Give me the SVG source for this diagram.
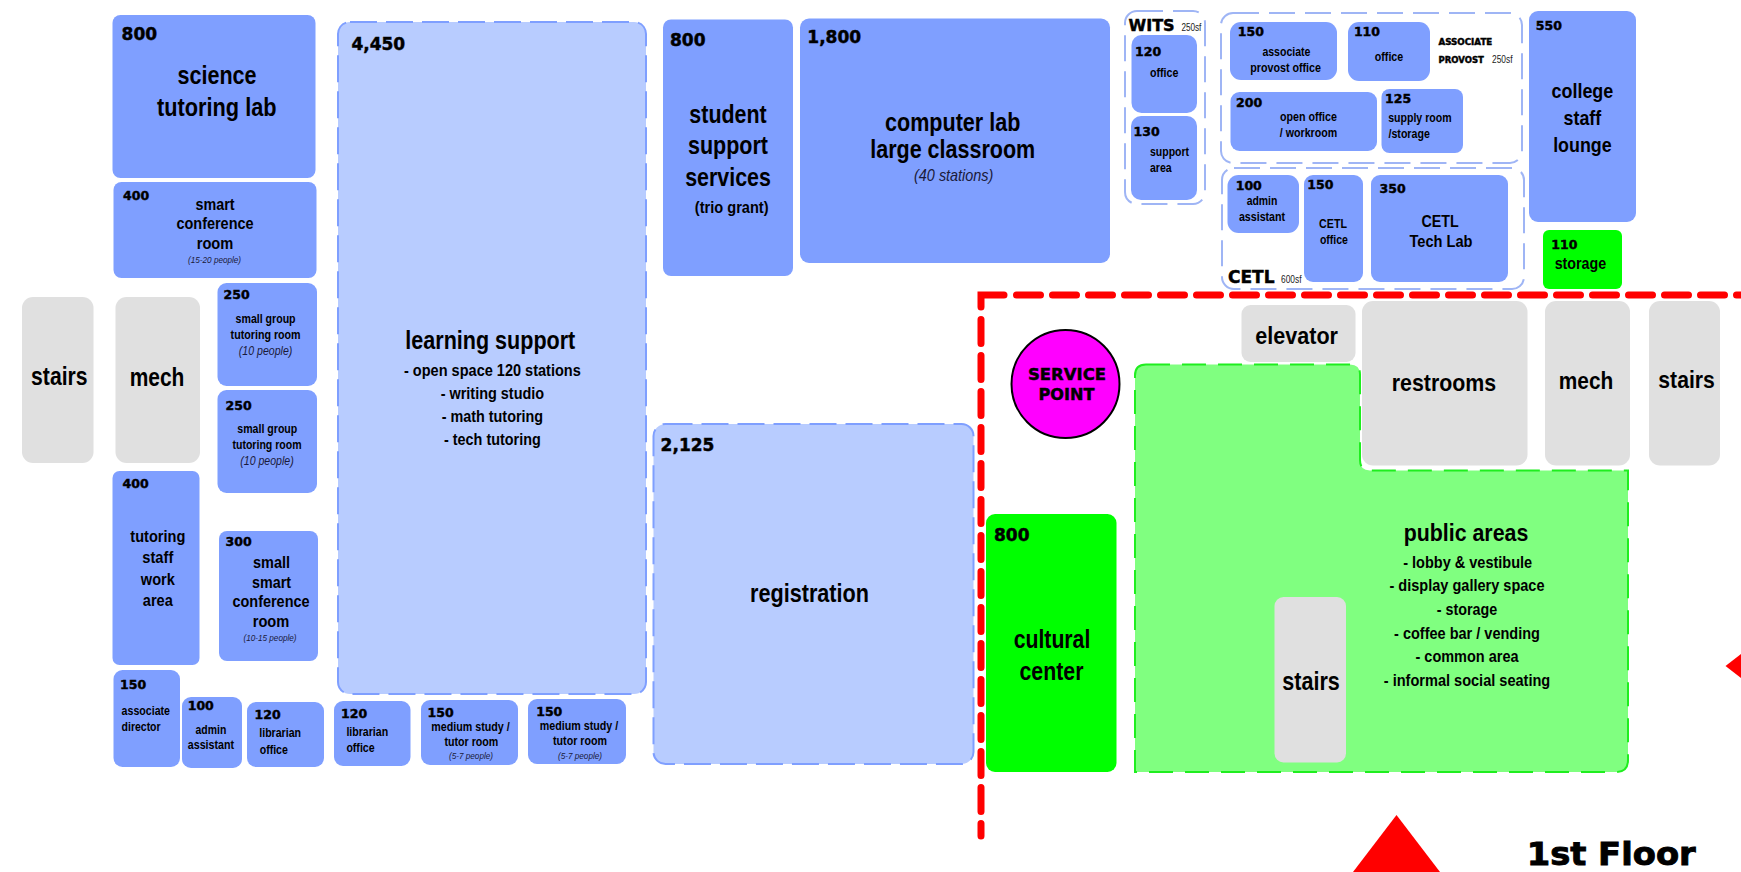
<svg xmlns="http://www.w3.org/2000/svg" width="1741" height="872" viewBox="0 0 1741 872">
<style>
text{font-family:"Liberation Sans",Arial,sans-serif;font-weight:700;fill:#000}
.n{font-family:"DejaVu Sans",Verdana,sans-serif;font-weight:700;stroke:#000;stroke-width:.45}
.c{text-anchor:middle}
.i{font-style:italic;font-weight:400;fill:#1a1a3a}
.s{font-weight:400;fill:#222}
.b{fill:#7f9fff}
.l{fill:#b8ccff;stroke:#7f9fff;stroke-width:2;stroke-dasharray:27 9}
.g{fill:#e0e0e0}
.o{fill:#fff;stroke:#9fb5f5;stroke-width:2;stroke-dasharray:26 10}
.h{fill:#00ff00}
.p{fill:#80ff80;stroke:#1fee1f;stroke-width:2;stroke-dasharray:24 12}
.r{fill:none;stroke:#ff0000;stroke-width:7;stroke-linecap:round}
.d{stroke-dasharray:24 12}
</style>
<g id="n-wits-area"><rect class="o" x="1125" y="11" width="80" height="193" rx="12"/>
<text class="n" x="1128.6" y="30.7" font-size="16">WITS</text><text class="s" x="1181.4" y="30.7" font-size="10" textLength="20" lengthAdjust="spacingAndGlyphs">250sf</text></g>
<g id="n-provost-area"><rect class="o" x="1221" y="13" width="301" height="150" rx="12"/>
<text class="n" x="1438.5" y="45" font-size="8.7">ASSOCIATE</text><text class="n" x="1438.5" y="63.3" font-size="8.5">PROVOST</text><text class="s" x="1492" y="63.3" font-size="10" textLength="20.5" lengthAdjust="spacingAndGlyphs">250sf</text></g>
<g id="n-cetl-area"><rect class="o" x="1222" y="168" width="302" height="121" rx="12"/>
<text class="n" x="1228" y="283" font-size="17">CETL</text><text class="s" x="1281" y="283" font-size="10" textLength="20.5" lengthAdjust="spacingAndGlyphs">600sf</text></g>

<g id="n-science"><rect class="b" x="112.5" y="15" width="203" height="163" rx="8"/>
<text class="n" x="121.6" y="40" font-size="17">800</text>
<text class="c" x="217" y="83.5" font-size="25.6" textLength="79" lengthAdjust="spacingAndGlyphs">science</text>
<text class="c" x="216.8" y="115.5" font-size="25.6" textLength="119.5" lengthAdjust="spacingAndGlyphs">tutoring lab</text></g>
<g id="n-smart-conf"><rect class="b" x="113.5" y="182" width="203" height="96" rx="8"/>
<text class="n" x="123" y="199.5" font-size="12.5">400</text>
<text class="c" x="215" y="209.5" font-size="16" textLength="39" lengthAdjust="spacingAndGlyphs">smart</text>
<text class="c" x="215" y="229" font-size="16" textLength="77" lengthAdjust="spacingAndGlyphs">conference</text>
<text class="c" x="215" y="249" font-size="16" textLength="36.6" lengthAdjust="spacingAndGlyphs">room</text>
<text class="c i" x="214.6" y="262.5" font-size="9" textLength="53" lengthAdjust="spacingAndGlyphs">(15-20 people)</text></g>
<g id="n-group-a"><rect class="b" x="217.5" y="283" width="99.5" height="103" rx="9"/>
<text class="n" x="223.5" y="298.7" font-size="12.5">250</text>
<text class="c" x="265.6" y="322.7" font-size="12" textLength="60" lengthAdjust="spacingAndGlyphs">small group</text>
<text class="c" x="265.6" y="338.5" font-size="12" textLength="70" lengthAdjust="spacingAndGlyphs">tutoring room</text>
<text class="c i" x="265.6" y="355" font-size="12" textLength="53.5" lengthAdjust="spacingAndGlyphs">(10 people)</text></g>
<g id="n-group-b"><rect class="b" x="217.5" y="390" width="99.5" height="103" rx="9"/>
<text class="n" x="225.6" y="410" font-size="12.5">250</text>
<text class="c" x="267.3" y="433.3" font-size="12" textLength="60" lengthAdjust="spacingAndGlyphs">small group</text>
<text class="c" x="267" y="448.5" font-size="12" textLength="69" lengthAdjust="spacingAndGlyphs">tutoring room</text>
<text class="c i" x="267" y="465" font-size="12" textLength="53.5" lengthAdjust="spacingAndGlyphs">(10 people)</text></g>
<g id="n-stairs-left"><rect class="g" x="22" y="297" width="71.5" height="166" rx="11"/>
<text class="c" x="59.3" y="385" font-size="25.6" textLength="56.4" lengthAdjust="spacingAndGlyphs">stairs</text></g>
<g id="n-mech-left"><rect class="g" x="115.5" y="297" width="84.5" height="166" rx="11"/>
<text class="c" x="157" y="385.5" font-size="25.6" textLength="54.7" lengthAdjust="spacingAndGlyphs">mech</text></g>
<g id="n-tutoring-staff"><rect class="b" x="112.5" y="471" width="87" height="194" rx="7"/>
<text class="n" x="122.5" y="488" font-size="12.5">400</text>
<text class="c" x="157.8" y="541.7" font-size="17" textLength="55" lengthAdjust="spacingAndGlyphs">tutoring</text>
<text class="c" x="157.8" y="563.3" font-size="17" textLength="31" lengthAdjust="spacingAndGlyphs">staff</text>
<text class="c" x="157.8" y="585" font-size="17" textLength="34" lengthAdjust="spacingAndGlyphs">work</text>
<text class="c" x="157.8" y="606" font-size="17" textLength="30" lengthAdjust="spacingAndGlyphs">area</text></g>
<g id="n-small-smart"><rect class="b" x="219" y="531" width="99" height="130" rx="8"/>
<text class="n" x="225.6" y="546.3" font-size="12.5">300</text>
<text class="c" x="271.5" y="568" font-size="16" textLength="37" lengthAdjust="spacingAndGlyphs">small</text>
<text class="c" x="271.5" y="587.7" font-size="16" textLength="39" lengthAdjust="spacingAndGlyphs">smart</text>
<text class="c" x="271" y="607.3" font-size="16" textLength="77" lengthAdjust="spacingAndGlyphs">conference</text>
<text class="c" x="271" y="627" font-size="16" textLength="36.6" lengthAdjust="spacingAndGlyphs">room</text>
<text class="c i" x="270" y="641.3" font-size="9" textLength="53" lengthAdjust="spacingAndGlyphs">(10-15 people)</text></g>
<g id="n-assoc-director"><rect class="b" x="113.5" y="670" width="66.5" height="97" rx="9"/>
<text class="n" x="120" y="688.7" font-size="12.5">150</text>
<text x="121.6" y="715" font-size="12" textLength="48.4" lengthAdjust="spacingAndGlyphs">associate</text>
<text x="121.6" y="730.7" font-size="12" textLength="39" lengthAdjust="spacingAndGlyphs">director</text></g>
<g id="n-admin-a"><rect class="b" x="182" y="697" width="60" height="71" rx="9"/>
<text class="n" x="187.7" y="710.3" font-size="12.5">100</text>
<text class="c" x="210.9" y="733.7" font-size="12" textLength="30.7" lengthAdjust="spacingAndGlyphs">admin</text>
<text class="c" x="210.9" y="749" font-size="12" textLength="46.3" lengthAdjust="spacingAndGlyphs">assistant</text></g>
<g id="n-librarian-a"><rect class="b" x="247" y="702" width="77" height="65" rx="9"/>
<text class="n" x="254.6" y="719.3" font-size="12.5">120</text>
<text x="259.3" y="737.3" font-size="12" textLength="41.7" lengthAdjust="spacingAndGlyphs">librarian</text>
<text x="259.7" y="753.7" font-size="12" textLength="28.2" lengthAdjust="spacingAndGlyphs">office</text></g>
<g id="n-librarian-b"><rect class="b" x="334" y="701" width="76.5" height="65" rx="9"/>
<text class="n" x="341" y="718" font-size="12.5">120</text>
<text x="346.4" y="736" font-size="12" textLength="41.7" lengthAdjust="spacingAndGlyphs">librarian</text>
<text x="346.4" y="752.3" font-size="12" textLength="28.2" lengthAdjust="spacingAndGlyphs">office</text></g>
<g id="n-medium-a"><rect class="b" x="421" y="700" width="97" height="65" rx="9"/>
<text class="n" x="427.6" y="717" font-size="12.5">150</text>
<text class="c" x="470.5" y="731" font-size="12" textLength="78.3" lengthAdjust="spacingAndGlyphs">medium study /</text>
<text class="c" x="471.4" y="746" font-size="12" textLength="53.9" lengthAdjust="spacingAndGlyphs">tutor room</text>
<text class="c i" x="471" y="759.3" font-size="9" textLength="44" lengthAdjust="spacingAndGlyphs">(5-7 people)</text></g>
<g id="n-medium-b"><rect class="b" x="528" y="699" width="98" height="65" rx="9"/>
<text class="n" x="536.2" y="716.3" font-size="12.5">150</text>
<text class="c" x="579" y="730.3" font-size="12" textLength="78.3" lengthAdjust="spacingAndGlyphs">medium study /</text>
<text class="c" x="580" y="745.3" font-size="12" textLength="53.9" lengthAdjust="spacingAndGlyphs">tutor room</text>
<text class="c i" x="580" y="758.7" font-size="9" textLength="44" lengthAdjust="spacingAndGlyphs">(5-7 people)</text></g>
<g id="n-learning"><rect class="l" x="338" y="22" width="308" height="672" rx="12"/>
<text class="n" x="351.4" y="50" font-size="17">4,450</text>
<text class="c" x="490.3" y="349.3" font-size="25.6" textLength="170" lengthAdjust="spacingAndGlyphs">learning support</text>
<text class="c" x="492.4" y="375.7" font-size="17" textLength="176.8" lengthAdjust="spacingAndGlyphs">- open space 120 stations</text>
<text class="c" x="492.4" y="399" font-size="17" textLength="103.5" lengthAdjust="spacingAndGlyphs">- writing studio</text>
<text class="c" x="492.4" y="422" font-size="17" textLength="101.4" lengthAdjust="spacingAndGlyphs">- math tutoring</text>
<text class="c" x="492.4" y="445" font-size="17" textLength="96.8" lengthAdjust="spacingAndGlyphs">- tech tutoring</text></g>
<g id="n-registration"><rect class="l" x="653.5" y="424" width="320" height="340" rx="12"/>
<text class="n" x="660.6" y="451" font-size="17">2,125</text>
<text class="c" x="809.5" y="601.7" font-size="25.6" textLength="119" lengthAdjust="spacingAndGlyphs">registration</text></g>
<g id="n-student-support"><rect class="b" x="663" y="19.5" width="130" height="256.5" rx="8"/>
<text class="n" x="670" y="45.7" font-size="17">800</text>
<text class="c" x="728" y="122.7" font-size="25.6" textLength="77.3" lengthAdjust="spacingAndGlyphs">student</text>
<text class="c" x="728" y="154.3" font-size="25.6" textLength="80" lengthAdjust="spacingAndGlyphs">support</text>
<text class="c" x="728" y="186" font-size="25.6" textLength="85.7" lengthAdjust="spacingAndGlyphs">services</text>
<text class="c" x="731.7" y="212.7" font-size="17" textLength="73.7" lengthAdjust="spacingAndGlyphs">(trio grant)</text></g>
<g id="n-computer-lab"><rect class="b" x="800" y="18.5" width="310" height="244.5" rx="9"/>
<text class="n" x="807.3" y="42.7" font-size="17">1,800</text>
<text class="c" x="952.7" y="130.7" font-size="25.6" textLength="135.3" lengthAdjust="spacingAndGlyphs">computer lab</text>
<text class="c" x="952.7" y="158.3" font-size="25.6" textLength="165" lengthAdjust="spacingAndGlyphs">large classroom</text>
<text class="c i" x="953.7" y="181" font-size="17" textLength="79.3" lengthAdjust="spacingAndGlyphs">(40 stations)</text></g>
<g id="n-wits-office"><rect class="b" x="1131.5" y="35" width="65.5" height="78" rx="10"/>
<text class="n" x="1135" y="55.7" font-size="12.5">120</text>
<text class="c" x="1164.2" y="76.7" font-size="12" textLength="28.4" lengthAdjust="spacingAndGlyphs">office</text></g>
<g id="n-wits-support"><rect class="b" x="1131" y="116" width="66" height="84" rx="10"/>
<text class="n" x="1133.5" y="135.7" font-size="12.5">130</text>
<text x="1150" y="155.7" font-size="12" textLength="39" lengthAdjust="spacingAndGlyphs">support</text>
<text x="1150" y="171.7" font-size="12" textLength="21.7" lengthAdjust="spacingAndGlyphs">area</text></g>
<g id="n-ap-office"><rect class="b" x="1230" y="22" width="107" height="58" rx="11"/>
<text class="n" x="1237.8" y="36" font-size="12.5">150</text>
<text class="c" x="1286.4" y="56.3" font-size="12" textLength="48" lengthAdjust="spacingAndGlyphs">associate</text>
<text class="c" x="1285.6" y="72" font-size="12" textLength="70.7" lengthAdjust="spacingAndGlyphs">provost office</text></g>
<g id="n-office-110"><rect class="b" x="1348" y="22" width="82" height="59" rx="11"/>
<text class="n" x="1353.9" y="36" font-size="12.5">110</text>
<text class="c" x="1389" y="60.7" font-size="12" textLength="28.4" lengthAdjust="spacingAndGlyphs">office</text></g>
<g id="n-open-office"><rect class="b" x="1230.5" y="92" width="146.5" height="59" rx="9"/>
<text class="n" x="1236" y="107" font-size="12.5">200</text>
<text class="c" x="1308.5" y="120.7" font-size="12" textLength="56.8" lengthAdjust="spacingAndGlyphs">open office</text>
<text class="c" x="1308.5" y="136.7" font-size="12" textLength="57.3" lengthAdjust="spacingAndGlyphs">/ workroom</text></g>
<g id="n-supply"><rect class="b" x="1381.5" y="89" width="81.5" height="64" rx="8"/>
<text class="n" x="1385" y="103" font-size="12.5">125</text>
<text x="1388.2" y="122.3" font-size="12" textLength="63.4" lengthAdjust="spacingAndGlyphs">supply room</text>
<text x="1388.5" y="138.3" font-size="12" textLength="41.3" lengthAdjust="spacingAndGlyphs">/storage</text></g>
<g id="n-cetl-admin"><rect class="b" x="1227.5" y="175" width="71.5" height="58" rx="11"/>
<text class="n" x="1235.7" y="190" font-size="12.5">100</text>
<text class="c" x="1262" y="205" font-size="12" textLength="30.7" lengthAdjust="spacingAndGlyphs">admin</text>
<text class="c" x="1262" y="221" font-size="12" textLength="46.2" lengthAdjust="spacingAndGlyphs">assistant</text></g>
<g id="n-cetl-office"><rect class="b" x="1304" y="175" width="59" height="107" rx="9"/>
<text class="n" x="1307.3" y="189.3" font-size="12.5">150</text>
<text class="c" x="1333" y="228.3" font-size="12" textLength="27.8" lengthAdjust="spacingAndGlyphs">CETL</text>
<text class="c" x="1333.9" y="244.3" font-size="12" textLength="28" lengthAdjust="spacingAndGlyphs">office</text></g>
<g id="n-cetl-lab"><rect class="b" x="1371" y="175" width="137" height="107" rx="9"/>
<text class="n" x="1379.6" y="192.7" font-size="12.5">350</text>
<text class="c" x="1440" y="227.3" font-size="17" textLength="37.2" lengthAdjust="spacingAndGlyphs">CETL</text>
<text class="c" x="1441" y="247.3" font-size="17" textLength="63" lengthAdjust="spacingAndGlyphs">Tech Lab</text></g>
<g id="n-lounge"><rect class="b" x="1529" y="11" width="107" height="211" rx="9"/>
<text class="n" x="1535.8" y="30" font-size="12.5">550</text>
<text class="c" x="1582.4" y="98.3" font-size="21" textLength="61.7" lengthAdjust="spacingAndGlyphs">college</text>
<text class="c" x="1582.4" y="125" font-size="21" textLength="37.6" lengthAdjust="spacingAndGlyphs">staff</text>
<text class="c" x="1582.4" y="152" font-size="21" textLength="58.5" lengthAdjust="spacingAndGlyphs">lounge</text></g>
<g id="n-storage"><rect class="h" x="1543" y="230" width="79" height="59" rx="6"/>
<text class="n" x="1551.3" y="249" font-size="12.5">110</text>
<text class="c" x="1580.4" y="269.3" font-size="16" textLength="51.5" lengthAdjust="spacingAndGlyphs">storage</text></g>
<g id="n-elevator"><rect class="g" x="1241.5" y="305" width="114" height="57" rx="9"/>
<text class="c" x="1296.6" y="344" font-size="24" textLength="82.7" lengthAdjust="spacingAndGlyphs">elevator</text></g>
<g id="n-restrooms"><rect class="g" x="1362" y="301" width="165.5" height="164.5" rx="11"/>
<text class="c" x="1444" y="391.4" font-size="24" textLength="104.4" lengthAdjust="spacingAndGlyphs">restrooms</text></g>
<g id="n-mech-right"><rect class="g" x="1545" y="301" width="85" height="164.5" rx="11"/>
<text class="c" x="1586" y="388.7" font-size="24" textLength="54.5" lengthAdjust="spacingAndGlyphs">mech</text></g>
<g id="n-stairs-right"><rect class="g" x="1649" y="301" width="71" height="164.5" rx="11"/>
<text class="c" x="1686.6" y="388" font-size="24" textLength="56.5" lengthAdjust="spacingAndGlyphs">stairs</text></g>
<g id="n-service"><ellipse cx="1065.5" cy="384" rx="54" ry="54" fill="#ff00ff" stroke="#000" stroke-width="2"/>
<text class="n c" x="1067" y="380.3" font-size="16" textLength="78" lengthAdjust="spacingAndGlyphs">SERVICE</text>
<text class="n c" x="1066.5" y="400.3" font-size="16" textLength="56" lengthAdjust="spacingAndGlyphs">POINT</text></g>
<g id="n-cultural"><rect class="h" x="986" y="514" width="130.5" height="258" rx="9"/>
<text class="n" x="994" y="540.5" font-size="17">800</text>
<text class="c" x="1052" y="648" font-size="25.6" textLength="76.7" lengthAdjust="spacingAndGlyphs">cultural</text>
<text class="c" x="1051.5" y="680" font-size="25.6" textLength="64" lengthAdjust="spacingAndGlyphs">center</text></g>
<g id="n-public"><path class="p" d="M1146 364.5H1350Q1360 364.5 1360 374.5V460Q1360 470.5 1370 470.5H1628V760Q1628 772 1616 772H1135V375.5Q1135 364.5 1146 364.5Z"/>
<text class="c" x="1466" y="541" font-size="24" textLength="124.6" lengthAdjust="spacingAndGlyphs">public areas</text>
<text class="c" x="1467.7" y="568" font-size="16.5" textLength="129" lengthAdjust="spacingAndGlyphs">- lobby &amp; vestibule</text>
<text class="c" x="1467" y="591.4" font-size="16.5" textLength="155" lengthAdjust="spacingAndGlyphs">- display gallery space</text>
<text class="c" x="1467" y="615" font-size="16.5" textLength="60.5" lengthAdjust="spacingAndGlyphs">- storage</text>
<text class="c" x="1467" y="638.6" font-size="16.5" textLength="145.8" lengthAdjust="spacingAndGlyphs">- coffee bar / vending</text>
<text class="c" x="1467" y="662" font-size="16.5" textLength="103" lengthAdjust="spacingAndGlyphs">- common area</text>
<text class="c" x="1467" y="685.8" font-size="16.5" textLength="166.5" lengthAdjust="spacingAndGlyphs">- informal social seating</text></g>
<g id="n-stairs-inner"><rect class="g" x="1274.5" y="597" width="71.5" height="165.5" rx="9"/>
<text class="c" x="1311" y="689.6" font-size="25" textLength="57.5" lengthAdjust="spacingAndGlyphs">stairs</text></g>
<g id="connectors">
<path class="r" d="M981 307V295H1004"/>
<path class="r d" d="M1016.5 295H1745"/>
<path class="r d" d="M981 319.5V836"/>
<path d="M1396.5 815L1353 872H1440Z" fill="#ff0000"/>
<path d="M1725.5 666L1741 654V678Z" fill="#ff0000"/>
</g>
<g id="n-floor"><text class="n" x="1526.7" y="865" font-size="32" textLength="169" lengthAdjust="spacingAndGlyphs" style="stroke-width:.9">1st Floor</text></g>
</svg>
